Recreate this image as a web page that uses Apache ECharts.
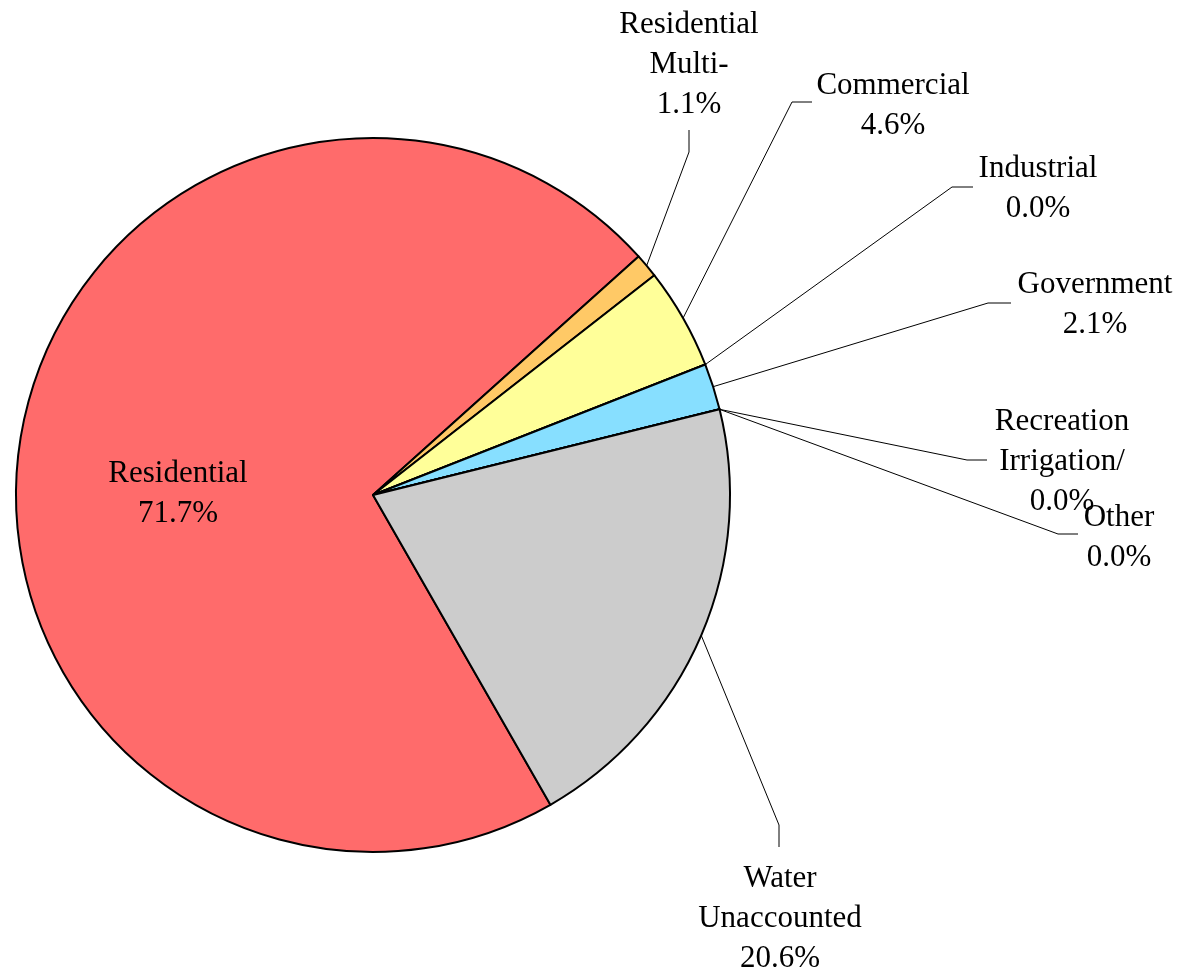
<!DOCTYPE html>
<html>
<head>
<meta charset="utf-8">
<script src="https://cdn.jsdelivr.net/npm/echarts@6/dist/echarts.min.js"></script>
<style>
html,body{margin:0;padding:0;background:#fff;}
#chart{width:1182px;height:972px;}
</style>
</head>
<body>
<div id="chart"></div>
<script>
// ---- data ----
const categories = [
  "Residential",
  "Residential\nMulti-",
  "Commercial",
  "Industrial",
  "Government",
  "Recreation\nIrrigation/",
  "Other",
  "Water\nUnaccounted"
];
const values = [71.7, 1.1, 4.6, 0.0, 2.1, 0.0, 0.0, 20.6];

// ---- styles / layout (not data) ----
const colors = ["#FF6B6B", "#FFC966", "#FFFF99", "#FFFF99", "#87DFFF", "#CCCCCC", "#CCCCCC", "#CCCCCC"];
// label centre positions and leader-line elbows
const labelLayoutCfg = [
  { x: 178,  y: 494, line: null },
  { x: 689,  y: 65,  line: [[689, 152], [689, 130]] },
  { x: 893,  y: 106, line: [[792, 102], [812, 102]] },
  { x: 1038, y: 189, line: [[952, 187], [973, 187]] },
  { x: 1095, y: 305, line: [[988, 303], [1011, 303]] },
  { x: 1062, y: 462, line: [[967, 460], [987, 460]] },
  { x: 1119, y: 538, line: [[1058, 534], [1078, 534]] },
  { x: 780,  y: 919, line: [[779, 825], [779, 847]] }
];

const chart = echarts.init(document.getElementById('chart'), null, { renderer: 'canvas' });

const seriesData = categories.map((name, i) => ({
  name: name,
  value: values[i],
  itemStyle: { color: colors[i] },
  label: i === 0 ? { position: 'inside' } : {},
  labelLine: { show: i !== 0 }
}));

chart.setOption({
  animation: false,
  backgroundColor: '#ffffff',
  series: [{
    type: 'pie',
    center: [373, 495],
    radius: 357,
    startAngle: -60.2,
    clockwise: true,
    avoidLabelOverlap: false,
    stillShowZeroSum: true,
    minShowLabelAngle: -1,
    data: seriesData,
    itemStyle: { borderColor: '#000000', borderWidth: 2 },
    label: {
      show: true,
      position: 'outside',
      formatter: p => p.name + '\n' + Number(p.value).toFixed(1) + '%',
      fontFamily: 'Liberation Serif',
      fontSize: 31,
      lineHeight: 40,
      color: '#000000',
      align: 'center'
    },
    labelLine: {
      show: true,
      length: 20,
      length2: 20,
      lineStyle: { color: '#000000', width: 1 }
    },
    labelLayout: function (params) {
      const cfg = labelLayoutCfg[params.dataIndex];
      const out = { x: cfg.x, y: cfg.y, align: 'center', verticalAlign: 'middle' };
      if (cfg.line && params.labelLinePoints && params.labelLinePoints.length) {
        const start = params.labelLinePoints[0];
        out.labelLinePoints = [start].concat(cfg.line);
      }
      return out;
    }
  }]
});
</script>
</body>
</html>
